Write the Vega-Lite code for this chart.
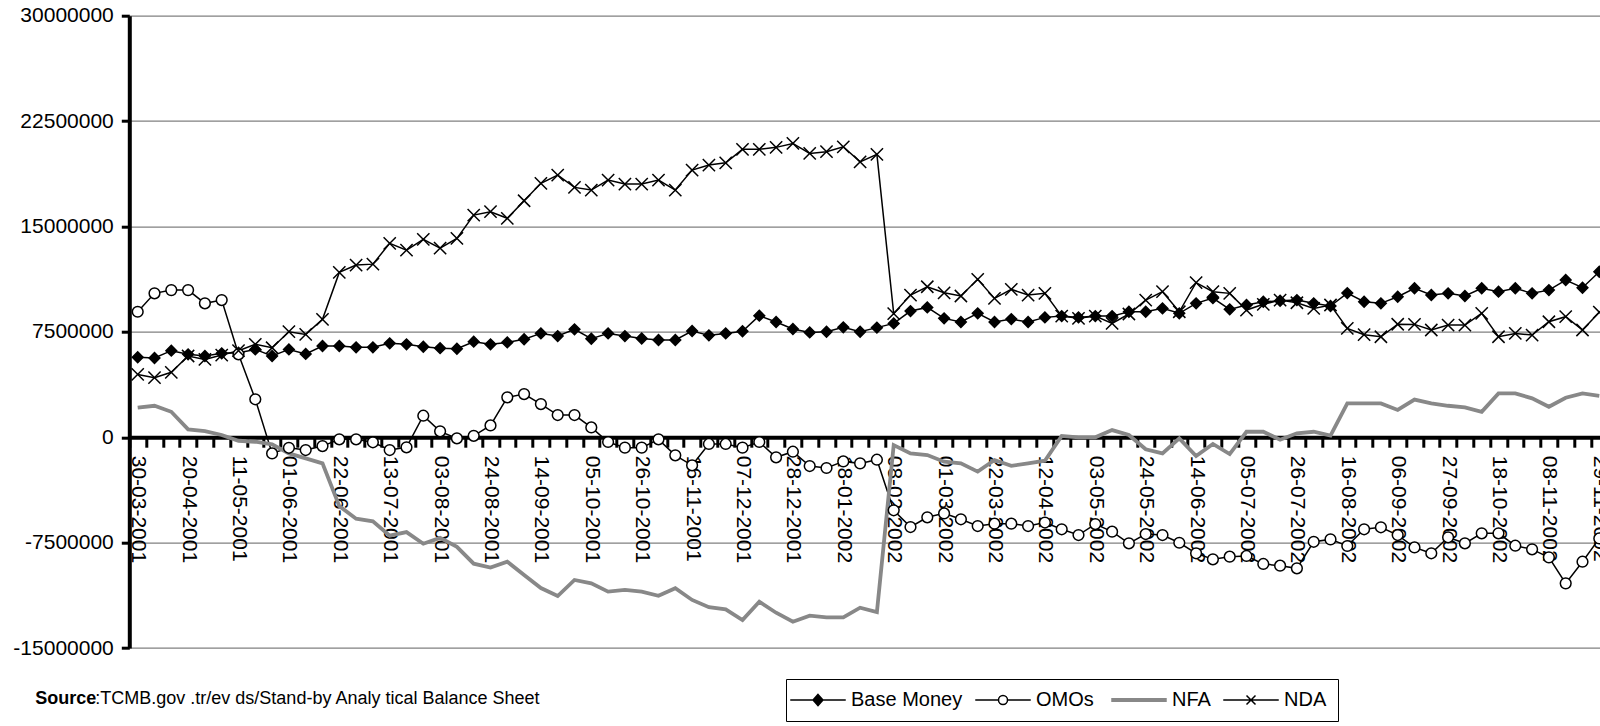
{
  "$schema": "https://vega.github.io/schema/vega-lite/v6.json",
  "description": "Base Money, OMOs, NFA and NDA, weekly, March 2001 - November 2002",
  "autosize": {"type": "none"},
  "padding": {"left": 129.3, "top": 15.7, "right": 0, "bottom": 78},
  "width": 1470.7,
  "height": 632.3,
  "background": "white",
  "title": {
    "text": "Source",
    "subtitle": "\u200b\u00a0\u00a0\u00a0\u00a0\u00a0\u00a0\u00a0\u00a0\u00a0\u00a0\u00a0\u00a0:TCMB.gov .tr/ev ds/Stand-by  Analy tical Balance Sheet",
    "orient": "bottom",
    "anchor": "start",
    "frame": "group",
    "dx": -94,
    "offset": -32,
    "font": "Liberation Sans",
    "fontSize": 18,
    "fontWeight": "bold",
    "color": "black",
    "subtitleFont": "Liberation Sans",
    "subtitleFontSize": 18,
    "subtitleFontWeight": "normal",
    "subtitleColor": "black",
    "subtitlePadding": -18
  },
  "data": {
    "values": [
      {"d": "30-03-2001", "Base Money": 5690000, "OMOs": 8930000, "NFA": 2100000, "NDA": 4470000},
      {"d": "06-04-2001", "Base Money": 5640000, "OMOs": 10240000, "NFA": 2240000, "NDA": 4240000},
      {"d": "13-04-2001", "Base Money": 6160000, "OMOs": 10470000, "NFA": 1810000, "NDA": 4620000},
      {"d": "20-04-2001", "Base Money": 5900000, "OMOs": 10470000, "NFA": 560000, "NDA": 5780000},
      {"d": "27-04-2001", "Base Money": 5780000, "OMOs": 9530000, "NFA": 440000, "NDA": 5540000},
      {"d": "04-05-2001", "Base Money": 5970000, "OMOs": 9760000, "NFA": 160000, "NDA": 5850000},
      {"d": "11-05-2001", "Base Money": 6010000, "OMOs": 5900000, "NFA": -250000, "NDA": 6160000},
      {"d": "18-05-2001", "Base Money": 6250000, "OMOs": 2700000, "NFA": -320000, "NDA": 6610000},
      {"d": "25-05-2001", "Base Money": 5780000, "OMOs": -1150000, "NFA": -510000, "NDA": 6370000},
      {"d": "01-06-2001", "Base Money": 6250000, "OMOs": -750000, "NFA": -1150000, "NDA": 7510000},
      {"d": "08-06-2001", "Base Money": 5930000, "OMOs": -910000, "NFA": -1500000, "NDA": 7320000},
      {"d": "15-06-2001", "Base Money": 6490000, "OMOs": -630000, "NFA": -1860000, "NDA": 8390000},
      {"d": "22-06-2001", "Base Money": 6490000, "OMOs": -150000, "NFA": -4900000, "NDA": 11730000},
      {"d": "29-06-2001", "Base Money": 6400000, "OMOs": -150000, "NFA": -5800000, "NDA": 12250000},
      {"d": "06-07-2001", "Base Money": 6400000, "OMOs": -360000, "NFA": -5980000, "NDA": 12320000},
      {"d": "13-07-2001", "Base Money": 6680000, "OMOs": -910000, "NFA": -7000000, "NDA": 13800000},
      {"d": "20-07-2001", "Base Money": 6610000, "OMOs": -720000, "NFA": -6750000, "NDA": 13320000},
      {"d": "27-07-2001", "Base Money": 6440000, "OMOs": 1530000, "NFA": -7580000, "NDA": 14080000},
      {"d": "03-08-2001", "Base Money": 6340000, "OMOs": 420000, "NFA": -7160000, "NDA": 13460000},
      {"d": "10-08-2001", "Base Money": 6300000, "OMOs": -80000, "NFA": -7800000, "NDA": 14150000},
      {"d": "17-08-2001", "Base Money": 6800000, "OMOs": 100000, "NFA": -9000000, "NDA": 15810000},
      {"d": "24-08-2001", "Base Money": 6610000, "OMOs": 840000, "NFA": -9280000, "NDA": 16050000},
      {"d": "31-08-2001", "Base Money": 6750000, "OMOs": 2840000, "NFA": -8860000, "NDA": 15580000},
      {"d": "07-09-2001", "Base Money": 6970000, "OMOs": 3070000, "NFA": -9810000, "NDA": 16830000},
      {"d": "14-09-2001", "Base Money": 7390000, "OMOs": 2360000, "NFA": -10730000, "NDA": 18070000},
      {"d": "21-09-2001", "Base Money": 7200000, "OMOs": 1580000, "NFA": -11300000, "NDA": 18660000},
      {"d": "28-09-2001", "Base Money": 7680000, "OMOs": 1580000, "NFA": -10160000, "NDA": 17780000},
      {"d": "05-10-2001", "Base Money": 7010000, "OMOs": 700000, "NFA": -10400000, "NDA": 17590000},
      {"d": "12-10-2001", "Base Money": 7390000, "OMOs": -340000, "NFA": -10990000, "NDA": 18300000},
      {"d": "19-10-2001", "Base Money": 7200000, "OMOs": -740000, "NFA": -10870000, "NDA": 18020000},
      {"d": "26-10-2001", "Base Money": 7030000, "OMOs": -740000, "NFA": -10990000, "NDA": 18020000},
      {"d": "02-11-2001", "Base Money": 6920000, "OMOs": -150000, "NFA": -11280000, "NDA": 18300000},
      {"d": "09-11-2001", "Base Money": 6920000, "OMOs": -1290000, "NFA": -10750000, "NDA": 17590000},
      {"d": "16-11-2001", "Base Money": 7560000, "OMOs": -2000000, "NFA": -11580000, "NDA": 19010000},
      {"d": "23-11-2001", "Base Money": 7250000, "OMOs": -480000, "NFA": -12100000, "NDA": 19370000},
      {"d": "30-11-2001", "Base Money": 7390000, "OMOs": -480000, "NFA": -12250000, "NDA": 19530000},
      {"d": "07-12-2001", "Base Money": 7540000, "OMOs": -740000, "NFA": -13010000, "NDA": 20490000},
      {"d": "14-12-2001", "Base Money": 8650000, "OMOs": -340000, "NFA": -11710000, "NDA": 20490000},
      {"d": "21-12-2001", "Base Money": 8200000, "OMOs": -1430000, "NFA": -12490000, "NDA": 20630000},
      {"d": "28-12-2001", "Base Money": 7700000, "OMOs": -1030000, "NFA": -13130000, "NDA": 20910000},
      {"d": "04-01-2002", "Base Money": 7460000, "OMOs": -2050000, "NFA": -12700000, "NDA": 20200000},
      {"d": "11-01-2002", "Base Money": 7510000, "OMOs": -2190000, "NFA": -12820000, "NDA": 20320000},
      {"d": "18-01-2002", "Base Money": 7820000, "OMOs": -1720000, "NFA": -12820000, "NDA": 20670000},
      {"d": "25-01-2002", "Base Money": 7510000, "OMOs": -1860000, "NFA": -12130000, "NDA": 19600000},
      {"d": "01-02-2002", "Base Money": 7800000, "OMOs": -1600000, "NFA": -12450000, "NDA": 20130000},
      {"d": "08-02-2002", "Base Money": 8100000, "OMOs": -5200000, "NFA": -560000, "NDA": 8800000},
      {"d": "15-02-2002", "Base Money": 8980000, "OMOs": -6390000, "NFA": -1150000, "NDA": 10120000},
      {"d": "22-02-2002", "Base Money": 9240000, "OMOs": -5700000, "NFA": -1270000, "NDA": 10710000},
      {"d": "01-03-2002", "Base Money": 8460000, "OMOs": -5420000, "NFA": -1740000, "NDA": 10280000},
      {"d": "08-03-2002", "Base Money": 8200000, "OMOs": -5840000, "NFA": -1860000, "NDA": 10050000},
      {"d": "15-03-2002", "Base Money": 8820000, "OMOs": -6320000, "NFA": -2450000, "NDA": 11240000},
      {"d": "22-03-2002", "Base Money": 8200000, "OMOs": -6150000, "NFA": -1620000, "NDA": 9880000},
      {"d": "29-03-2002", "Base Money": 8410000, "OMOs": -6150000, "NFA": -2030000, "NDA": 10520000},
      {"d": "05-04-2002", "Base Money": 8200000, "OMOs": -6320000, "NFA": -1860000, "NDA": 10120000},
      {"d": "12-04-2002", "Base Money": 8530000, "OMOs": -6070000, "NFA": -1670000, "NDA": 10240000},
      {"d": "19-04-2002", "Base Money": 8620000, "OMOs": -6550000, "NFA": 90000, "NDA": 8620000},
      {"d": "26-04-2002", "Base Money": 8530000, "OMOs": -6960000, "NFA": -10000, "NDA": 8460000},
      {"d": "03-05-2002", "Base Money": 8620000, "OMOs": -6180000, "NFA": 0, "NDA": 8620000},
      {"d": "10-05-2002", "Base Money": 8620000, "OMOs": -6720000, "NFA": 510000, "NDA": 8100000},
      {"d": "17-05-2002", "Base Money": 8930000, "OMOs": -7550000, "NFA": 160000, "NDA": 8770000},
      {"d": "24-05-2002", "Base Money": 8930000, "OMOs": -6890000, "NFA": -860000, "NDA": 9760000},
      {"d": "31-05-2002", "Base Money": 9170000, "OMOs": -6960000, "NFA": -1150000, "NDA": 10360000},
      {"d": "07-06-2002", "Base Money": 8820000, "OMOs": -7510000, "NFA": -80000, "NDA": 8930000},
      {"d": "14-06-2002", "Base Money": 9530000, "OMOs": -8260000, "NFA": -1340000, "NDA": 11000000},
      {"d": "21-06-2002", "Base Money": 9900000, "OMOs": -8690000, "NFA": -480000, "NDA": 10360000},
      {"d": "28-06-2002", "Base Money": 9100000, "OMOs": -8500000, "NFA": -1200000, "NDA": 10240000},
      {"d": "05-07-2002", "Base Money": 9410000, "OMOs": -8450000, "NFA": 390000, "NDA": 9050000},
      {"d": "12-07-2002", "Base Money": 9640000, "OMOs": -9020000, "NFA": 390000, "NDA": 9460000},
      {"d": "19-07-2002", "Base Money": 9710000, "OMOs": -9140000, "NFA": -180000, "NDA": 9760000},
      {"d": "26-07-2002", "Base Money": 9760000, "OMOs": -9330000, "NFA": 280000, "NDA": 9570000},
      {"d": "02-08-2002", "Base Money": 9530000, "OMOs": -7440000, "NFA": 390000, "NDA": 9170000},
      {"d": "09-08-2002", "Base Money": 9340000, "OMOs": -7270000, "NFA": 120000, "NDA": 9410000},
      {"d": "16-08-2002", "Base Money": 10260000, "OMOs": -7740000, "NFA": 2410000, "NDA": 7750000},
      {"d": "23-08-2002", "Base Money": 9640000, "OMOs": -6550000, "NFA": 2410000, "NDA": 7300000},
      {"d": "30-08-2002", "Base Money": 9530000, "OMOs": -6410000, "NFA": 2410000, "NDA": 7150000},
      {"d": "06-09-2002", "Base Money": 10000000, "OMOs": -6960000, "NFA": 1940000, "NDA": 8040000},
      {"d": "13-09-2002", "Base Money": 10600000, "OMOs": -7840000, "NFA": 2680000, "NDA": 8030000},
      {"d": "20-09-2002", "Base Money": 10120000, "OMOs": -8260000, "NFA": 2410000, "NDA": 7630000},
      {"d": "27-09-2002", "Base Money": 10240000, "OMOs": -7120000, "NFA": 2240000, "NDA": 7980000},
      {"d": "04-10-2002", "Base Money": 10050000, "OMOs": -7550000, "NFA": 2130000, "NDA": 7980000},
      {"d": "11-10-2002", "Base Money": 10600000, "OMOs": -6840000, "NFA": 1810000, "NDA": 8820000},
      {"d": "18-10-2002", "Base Money": 10360000, "OMOs": -6840000, "NFA": 3120000, "NDA": 7150000},
      {"d": "25-10-2002", "Base Money": 10600000, "OMOs": -7720000, "NFA": 3120000, "NDA": 7390000},
      {"d": "01-11-2002", "Base Money": 10240000, "OMOs": -7980000, "NFA": 2770000, "NDA": 7270000},
      {"d": "08-11-2002", "Base Money": 10470000, "OMOs": -8550000, "NFA": 2170000, "NDA": 8220000},
      {"d": "15-11-2002", "Base Money": 11190000, "OMOs": -10400000, "NFA": 2810000, "NDA": 8580000},
      {"d": "22-11-2002", "Base Money": 10640000, "OMOs": -8860000, "NFA": 3120000, "NDA": 7630000},
      {"d": "29-11-2002", "Base Money": 11780000, "OMOs": -7200000, "NFA": 2950000, "NDA": 8900000}
    ]
  },
  "transform": [
    {"fold": ["Base Money", "OMOs", "NFA", "NDA"], "as": ["series", "value"]}
  ],
  "encoding": {
    "x": {
      "field": "d",
      "type": "ordinal",
      "sort": null,
      "scale": {"type": "band", "paddingInner": 0, "paddingOuter": 0, "range": [0, 1478.4]},
      "axis": {
        "title": null,
        "offset": -210.8,
        "tickBand": "extent",
        "grid": false,
        "labelAngle": 90,
        "labelAlign": "left",
        "labelBaseline": "middle",
        "labelFont": "Liberation Sans",
        "labelFontSize": 21,
        "labelColor": "black",
        "labelPadding": 8,
        "labelOverlap": false,
        "labelExpr": "indexof(['30-03-2001','20-04-2001','11-05-2001','01-06-2001','22-06-2001','13-07-2001','03-08-2001','24-08-2001','14-09-2001','05-10-2001','26-10-2001','16-11-2001','07-12-2001','28-12-2001','18-01-2002','08-02-2002','01-03-2002','22-03-2002','12-04-2002','03-05-2002','24-05-2002','14-06-2002','05-07-2002','26-07-2002','16-08-2002','06-09-2002','27-09-2002','18-10-2002','08-11-2002','29-11-2002'], datum.value) >= 0 ? datum.label : ''",
        "domainColor": "black",
        "domainWidth": 4,
        "tickColor": "black",
        "tickWidth": 3,
        "tickSize": 10
      }
    },
    "y": {
      "field": "value",
      "type": "quantitative",
      "scale": {"domain": [-15000000, 30000000], "nice": false, "zero": false},
      "axis": {
        "title": null,
        "values": [-15000000, -7500000, 0, 7500000, 15000000, 22500000, 30000000],
        "labelExpr": "datum.value < 0 ? '-' + format(-datum.value, 'd') : format(datum.value, 'd')",
        "labelFont": "Liberation Sans",
        "labelFontSize": 21,
        "labelColor": "black",
        "labelPadding": 8,
        "domainColor": "black",
        "domainWidth": 4,
        "tickColor": "black",
        "tickWidth": 3,
        "tickSize": 8,
        "gridColor": "#808080",
        "gridWidth": 1.2,
        "gridOpacity": 1
      }
    }
  },
  "layer": [
    {
      "mark": {"type": "line", "strokeJoin": "miter"},
      "encoding": {
        "color": {
          "field": "series",
          "type": "nominal",
          "scale": {
            "domain": ["Base Money", "OMOs", "NFA", "NDA"],
            "range": ["#000000", "#000000", "#888888", "#000000"]
          },
          "legend": {
            "title": null,
            "orient": "none",
            "legendX": 656.7,
            "legendY": 663.3,
            "direction": "horizontal",
            "columns": 4,
            "columnPadding": 9,
            "padding": 11,
            "strokeColor": "black",
            "fillColor": "white",
            "cornerRadius": 0,
            "symbolSize": 900,
            "symbolOffset": 11,
            "labelOffset": 23,
            "labelFont": "Liberation Sans",
            "labelFontSize": 20,
            "labelColor": "black",
            "encode": {
              "symbols": {
                "update": {
                  "shape": {"signal": "datum.value === 'Base Money' ? 'M-1.85,0L1.85,0M0,-0.37L0.33,0L0,0.37L-0.33,0Z' : datum.value === 'OMOs' ? 'M-1.85,0L-0.3,0M0.3,0L1.85,0M-0.3,0A0.3,0.3,0,1,0,0.3,0A0.3,0.3,0,1,0,-0.3,0' : datum.value === 'NFA' ? 'M-1.85,0L1.85,0' : 'M-1.85,0L1.85,0M-0.3,-0.3L0.3,0.3M-0.3,0.3L0.3,-0.3'"},
                  "fill": {"signal": "datum.value === 'Base Money' ? 'black' : datum.value === 'OMOs' ? 'white' : 'transparent'"},
                  "stroke": {"signal": "datum.value === 'NFA' ? '#888888' : 'black'"},
                  "strokeWidth": {"signal": "datum.value === 'NFA' ? 4 : 1.5"},
                  "opacity": {"value": 1}
                }
              }
            }
          }
        },
        "strokeWidth": {"condition": {"test": "datum.series === 'NFA'", "value": 3.8}, "value": 1.5}
      }
    },
    {
      "transform": [{"filter": "datum.series !== 'NFA'"}],
      "mark": {"type": "point", "strokeWidth": 1.5, "opacity": 1, "fillOpacity": 1},
      "encoding": {
        "shape": {
          "field": "series",
          "type": "nominal",
          "scale": {
            "domain": ["Base Money", "OMOs", "NDA"],
            "range": ["diamond", "circle", "M-1,-1L1,1M-1,1L1,-1"]
          },
          "legend": null
        },
        "fill": {
          "field": "series",
          "type": "nominal",
          "scale": {
            "domain": ["Base Money", "OMOs", "NDA"],
            "range": ["black", "white", "transparent"]
          },
          "legend": null
        },
        "stroke": {"value": "black"},
        "size": {"condition": {"test": "datum.series === 'NDA'", "value": 150}, "value": 115}
      }
    }
  ],
  "config": {
    "view": {"stroke": null},
    "font": "Liberation Sans"
  }
}
